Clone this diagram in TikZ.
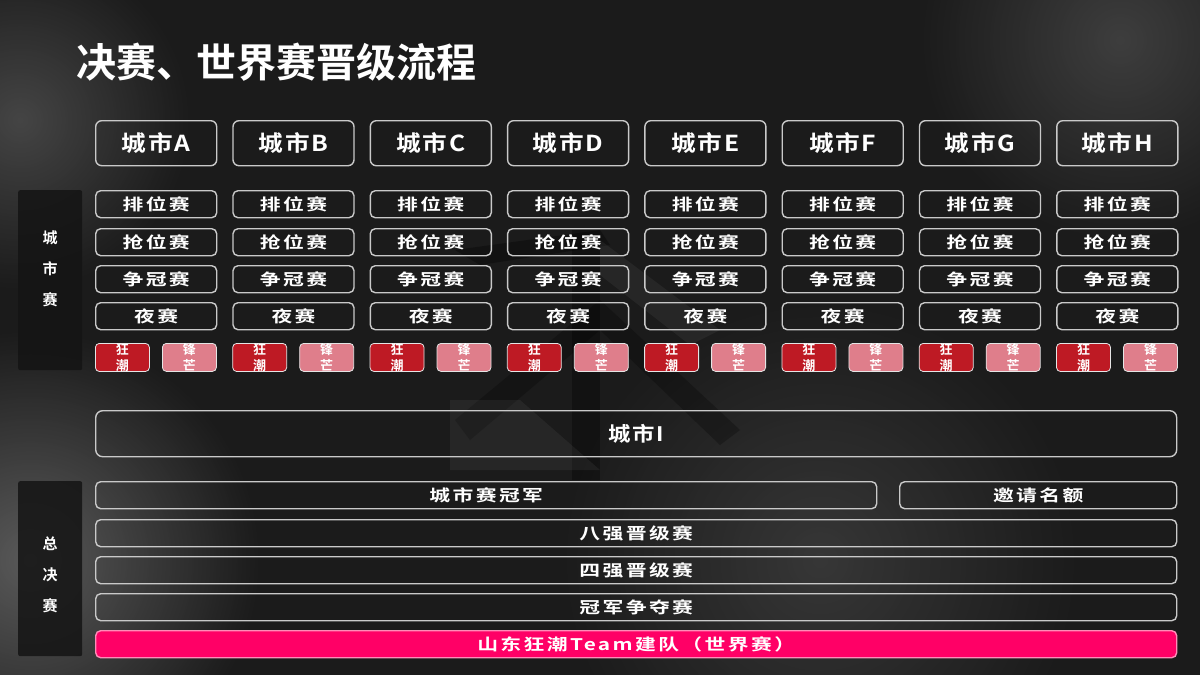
\documentclass[tikz,border=0pt]{standalone}
\usepackage{fontspec}
\setmainfont{Noto Sans CJK SC}[BoldFont=* Bold]
\newfontfamily\dispfont{Noto Sans CJK SC Bold}[FakeStretch=1.3, LetterSpace=15]
\newfontfamily\headfont{Noto Sans CJK SC Bold}[FakeStretch=1.12, LetterSpace=8]
\usetikzlibrary{positioning,fadings}
\tikzfading[name=softglow, inner color=transparent!0, outer color=transparent!100]
\definecolor{bgDark}{HTML}{1B1B1B}
\definecolor{sideDark}{HTML}{141414}
\definecolor{lineGray}{HTML}{C9C9C9}
\definecolor{tagRed}{HTML}{BE1A24}
\definecolor{tagPink}{HTML}{DF7E8B}
\definecolor{teamPink}{HTML}{FF0066}
\definecolor{teamEdge}{HTML}{FF8CB8}

\begin{document}
\begin{tikzpicture}[
    x=1pt, y=-1pt,
    box/.style={draw=lineGray, line width=1.4pt, text=white, inner sep=0pt,
                anchor=north west},
    cityhead/.style={box, rounded corners=6pt, minimum width=121pt,
                minimum height=45pt, font=\headfont\fontsize{22}{22}\selectfont},
    round/.style={box, rounded corners=5pt, minimum width=121pt,
                minimum height=27pt, font=\dispfont\fontsize{16}{16}\selectfont},
    tagbox/.style={draw=white!80!gray, line width=0.8pt, rounded corners=4pt,
                minimum width=54pt, minimum height=28pt, inner sep=0pt,
                anchor=north west, text=white, align=center,
                font=\bfseries\fontsize{13}{16}\selectfont},
    bar/.style={box, rounded corners=5pt, minimum height=27pt,
                font=\dispfont\fontsize{16}{16}\selectfont},
    sidebox/.style={fill=sideDark, fill opacity=0.85, rounded corners=2pt,
                minimum width=64pt, anchor=north west, inner sep=0pt},
    sidelabel/.style={text=white, align=center, inner sep=0pt,
                font=\bfseries\fontsize{15}{31}\selectfont},
    glow/.style={fill=gray!70, path fading=softglow},
]
\useasboundingbox (0,0) rectangle (1200,675);

%-----------------------------------------------------------------------
% background
\fill[bgDark] (0,0) rectangle (1200,675);
\fill[glow, opacity=0.45] (30,560) circle (230);
\fill[glow, opacity=0.30] (20,120) circle (170);
\fill[glow, opacity=0.25] (1120,40) circle (200);
\fill[glow, opacity=0.20] (820,560) circle (260);

% faint logo behind the table
\fill[black, opacity=0.30] (455,250) -- (600,230) -- (610,245) -- (480,265) -- cycle;
\fill[black, opacity=0.30] (572,230) -- (600,230) -- (600,480) -- (572,480) -- cycle;
\fill[black, opacity=0.25] (455,420) -- (600,300) -- (740,430) -- (720,445) -- (600,330) -- (470,440) -- cycle;
\fill[white, opacity=0.05] (450,400) -- (520,400) -- (600,470) -- (450,470) -- cycle;
\fill[white, opacity=0.05] (600,240) -- (720,330) -- (690,345) -- (600,275) -- cycle;

%-----------------------------------------------------------------------
% title
\node[anchor=west, text=white, inner sep=0pt,
      font=\bfseries\fontsize{40}{40}\selectfont] (title) at (76,62)
      {决赛、世界赛晋级流程};

%-----------------------------------------------------------------------
% side labels
\node[sidebox, minimum height=180pt] (citycup) at (18,190) {};
\node[sidelabel] (citycupText) at (50,269) {城\\市\\赛};
\node[sidebox, minimum height=175pt] (grandfinal) at (18,481) {};
\node[sidelabel] (grandfinalText) at (50,575) {总\\决\\赛};

%-----------------------------------------------------------------------
% city columns
\foreach \i/\c in {0/A,1/B,2/C,3/D,4/E,5/F,6/G,7/H}
{
  \pgfmathsetmacro\xl{95+137.3*\i}
  \node[cityhead] (city\c) at (\xl,120) {城市\c};
  \node[round] (rank\c) at (\xl,190) {排位赛};
  \node[round] (grab\c) at (\xl,228) {抢位赛};
  \node[round] (crown\c) at (\xl,265) {争冠赛};
  \node[round] (night\c) at (\xl,302) {夜赛};
  \node[tagbox, fill=tagRed] (tide\c) at (\xl,343) {狂\\潮};
  \node[tagbox, fill=tagPink] (edge\c) at (\xl+67,343) {锋\\芒};
}

%-----------------------------------------------------------------------
% finals
\node[box, rounded corners=7pt, minimum width=1081pt, minimum height=46pt,
      font=\headfont\fontsize{20}{20}\selectfont] (cityI) at (95,410) {城市I};

\node[bar, minimum width=781pt] (champ) at (95,481) {城市赛冠军};
\node[bar, minimum width=277pt] (invite) at (899,481) {邀请名额};
\node[bar, minimum width=1081pt] (top8) at (95,519) {八强晋级赛};
\node[bar, minimum width=1081pt] (top4) at (95,556) {四强晋级赛};
\node[bar, minimum width=1081pt] (cup) at (95,593) {冠军争夺赛};
\node[bar, minimum width=1081pt, fill=teamPink, draw=teamEdge] (team) at (95,630)
      {山东狂潮Team建队（世界赛）};

\end{tikzpicture}
\end{document}
